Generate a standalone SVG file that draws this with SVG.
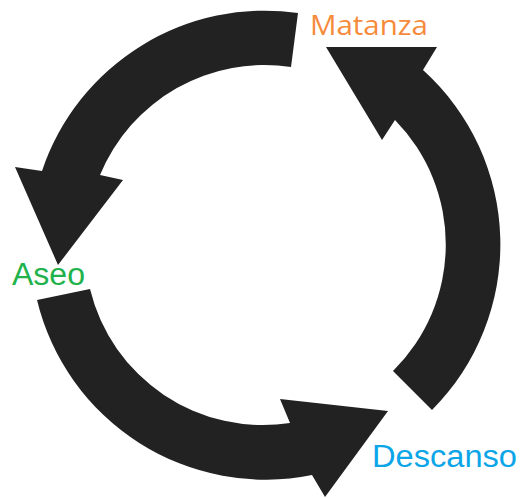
<svg xmlns="http://www.w3.org/2000/svg" width="520" height="498" viewBox="0 0 520 498">
  <style>
    .arrow { fill: #222222; }
    .label { font-family: "Liberation Sans", Arial, sans-serif; }
  </style>
  <rect width="520" height="498" fill="#ffffff"/>
  <!-- three curved arrows around a common centre (266,244), outer r 235, inner r 178 -->
  <g id="connectors">
    <path id="arrow-matanza-aseo" class="arrow" d="M 298 13 A 235 235 0 0 0 42 171 L 15 167 L 58 265 L 123 180 L 100 175 A 178 178 0 0 1 291 67 Z"/>
    <path id="arrow-aseo-descanso" class="arrow" d="M 37 300 A 235 235 0 0 0 312 475 L 325 497 L 388 411 L 280 399 L 290 423 A 178 178 0 0 1 90 289 Z"/>
    <path id="arrow-descanso-matanza" class="arrow" d="M 432 410 A 235 235 0 0 0 423 70 L 437 47 L 326 47 L 382 140 L 395 120 A 178 178 0 0 1 393 371 Z"/>
  </g>
  <g id="node-matanza">
    <text x="310" y="35" font-family="'Open Sans', 'Liberation Sans', sans-serif" font-size="28" fill="#F68B3B" textLength="118" lengthAdjust="spacingAndGlyphs">Matanza</text>
  </g>
  <g id="node-aseo">
    <text class="label" x="12" y="285" font-size="31" fill="#21B24B" textLength="73" lengthAdjust="spacingAndGlyphs">Aseo</text>
  </g>
  <g id="node-descanso">
    <text class="label" x="372" y="467" font-size="31" fill="#0BA5E8" textLength="145" lengthAdjust="spacingAndGlyphs">Descanso</text>
  </g>
</svg>
